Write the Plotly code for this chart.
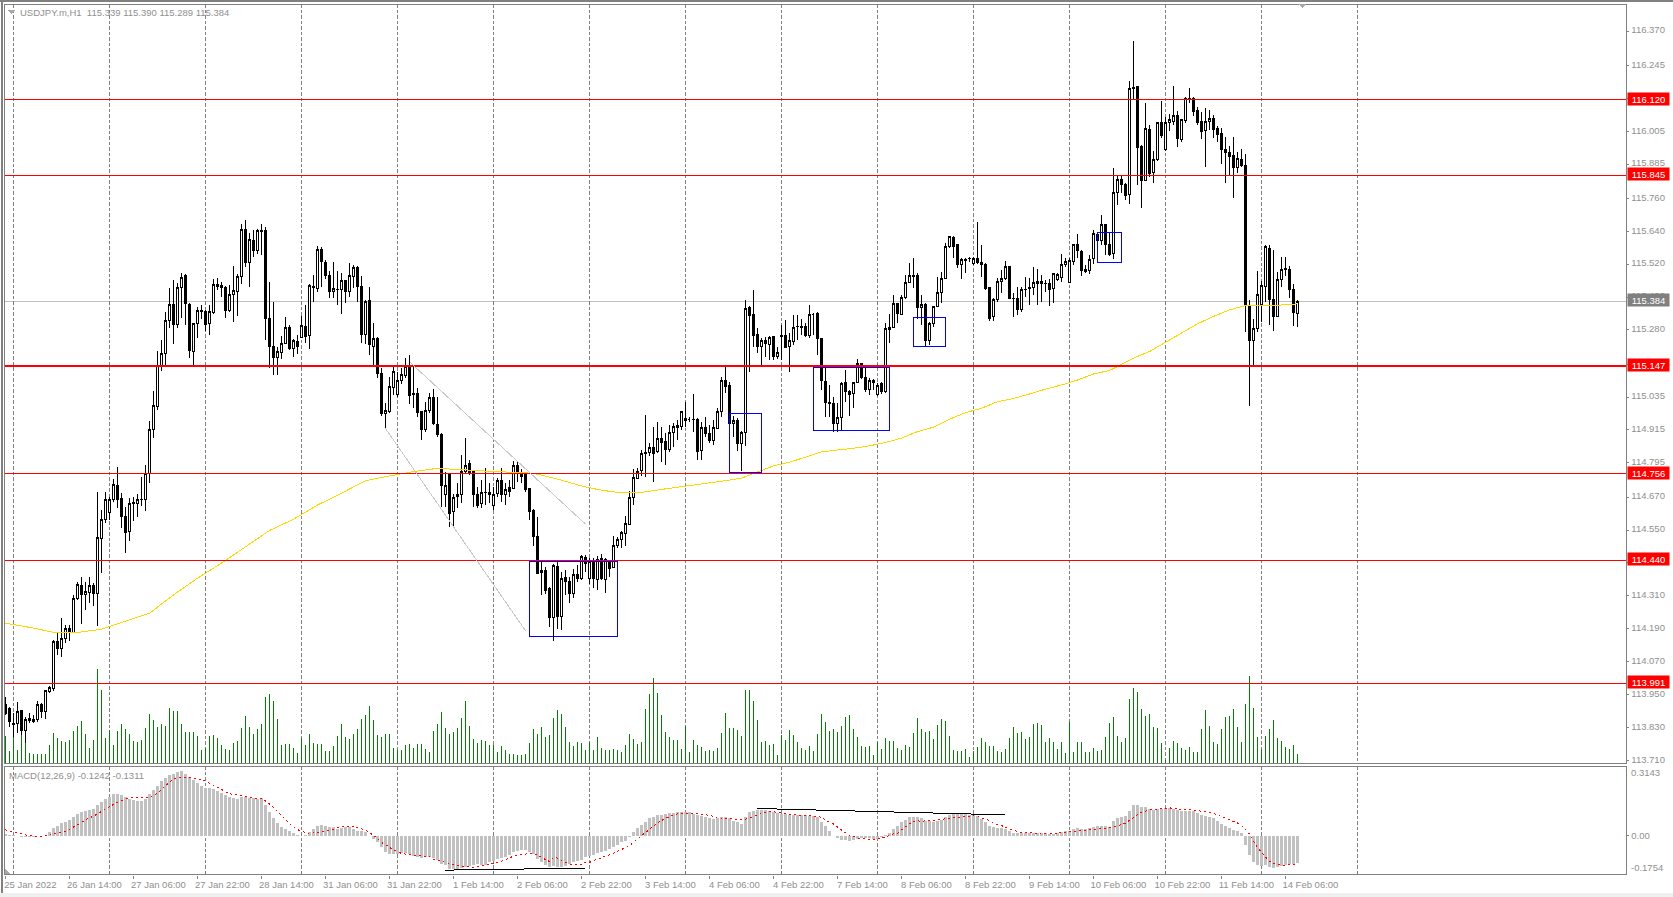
import plotly.graph_objects as go

# USDJPY.m H1 candles
opens = [
    113.912,113.900,113.843,113.845,113.890,113.818,113.863,113.859,113.859,113.914,
    113.887,113.960,113.973,114.142,114.118,114.155,114.191,114.177,114.301,114.346,
    114.313,114.322,114.346,114.319,114.520,114.589,114.613,114.660,114.714,114.666,
    114.601,114.544,114.647,114.647,114.662,114.662,114.757,114.917,115.000,115.150,
    115.195,115.316,115.371,115.300,115.436,115.477,115.373,115.201,115.304,115.350,
    115.348,115.304,115.343,115.446,115.441,115.436,115.350,115.410,115.420,115.474,
    115.647,115.525,115.608,115.569,115.641,115.641,115.322,115.221,115.179,115.197,
    115.231,115.290,115.211,115.236,115.253,115.294,115.259,115.438,115.432,115.572,
    115.527,115.480,115.420,115.428,115.426,115.459,115.420,115.474,115.508,115.440,
    115.262,115.386,115.219,115.249,115.122,114.976,114.982,115.069,115.043,115.095,
    115.113,115.150,115.049,115.049,114.982,114.915,114.986,115.034,114.935,114.899,
    114.678,114.753,114.617,114.678,114.678,114.763,114.791,114.763,114.678,114.647,
    114.688,114.688,114.641,114.684,114.729,114.678,114.706,114.702,114.786,114.761,
    114.751,114.700,114.623,114.526,114.401,114.401,114.337,114.232,114.416,114.234,
    114.377,114.362,114.319,114.386,114.374,114.450,114.374,114.431,114.370,114.447,
    114.370,114.435,114.414,114.493,114.514,114.538,114.570,114.668,114.739,114.767,
    114.830,114.832,114.852,114.836,114.884,114.874,114.844,114.905,114.932,114.929,
    114.948,114.955,114.954,114.954,114.840,114.925,114.903,114.876,114.922,114.983,
    115.097,115.079,114.939,114.951,114.866,114.906,115.361,115.337,115.264,115.219,
    115.243,115.227,115.255,115.182,115.261,115.261,115.221,115.237,115.293,115.294,
    115.294,115.261,115.338,115.340,115.247,115.092,115.016,115.010,114.939,114.961,
    115.089,115.055,115.049,115.088,115.158,115.106,115.061,115.097,115.045,115.083,
    115.055,115.280,115.290,115.377,115.338,115.398,115.454,115.479,115.477,115.362,
    115.373,115.241,115.302,115.367,115.417,115.468,115.586,115.618,115.590,115.519,
    115.535,115.539,115.523,115.541,115.527,115.519,115.435,115.328,115.392,115.456,
    115.468,115.513,115.395,115.395,115.353,115.426,115.430,115.434,115.456,115.457,
    115.450,115.450,115.432,115.465,115.472,115.520,115.453,115.529,115.592,115.566,
    115.499,115.496,115.540,115.629,115.608,115.663,115.590,115.560,115.781,115.827,
    115.809,115.775,116.159,116.168,115.949,115.825,116.010,115.854,115.900,116.037,
    115.937,116.037,116.042,116.064,115.973,116.044,116.125,116.125,116.079,116.039,
    116.006,116.040,116.050,116.014,115.995,115.937,115.928,115.915,115.872,115.903,
    115.881,115.368,115.241,115.286,115.371,115.438,115.578,115.392,115.329,115.465,
    115.499,115.501,115.428,115.339,
]
highs = [
    113.942,113.906,113.881,113.924,113.894,113.869,113.881,113.875,113.926,113.918,
    113.966,113.981,114.149,114.177,114.228,114.204,114.204,114.313,114.362,114.378,
    114.362,114.380,114.356,114.690,114.623,114.688,114.672,114.735,114.779,114.684,
    114.635,114.666,114.672,114.680,114.745,114.787,114.949,115.057,115.204,115.243,
    115.344,115.432,115.462,115.450,115.487,115.484,115.377,115.307,115.365,115.371,
    115.353,115.371,115.465,115.468,115.456,115.440,115.444,115.513,115.484,115.666,
    115.681,115.632,115.645,115.647,115.665,115.657,115.454,115.381,115.219,115.258,
    115.326,115.298,115.246,115.262,115.329,115.371,115.448,115.480,115.586,115.581,
    115.535,115.496,115.529,115.496,115.487,115.462,115.523,115.517,115.513,115.477,
    115.389,115.438,115.304,115.253,115.140,115.012,115.110,115.146,115.128,115.140,
    115.176,115.189,115.146,115.067,114.985,115.018,115.049,115.065,115.037,114.905,
    114.763,114.757,114.681,114.720,114.824,114.885,114.806,114.769,114.708,114.733,
    114.775,114.720,114.708,114.739,114.775,114.720,114.733,114.800,114.800,114.771,
    114.759,114.702,114.626,114.599,114.435,114.414,114.341,114.425,114.435,114.398,
    114.404,114.380,114.407,114.422,114.459,114.459,114.447,114.447,114.455,114.461,
    114.447,114.441,114.528,114.526,114.548,114.601,114.694,114.771,114.775,114.842,
    114.970,114.866,114.927,114.945,114.927,114.903,114.933,114.939,114.951,114.982,
    115.018,114.964,115.046,114.957,114.945,114.964,114.933,114.951,114.994,115.109,
    115.146,115.089,114.966,114.957,114.912,115.389,115.367,115.426,115.286,115.249,
    115.253,115.258,115.258,115.219,115.298,115.316,115.268,115.334,115.334,115.320,
    115.304,115.371,115.343,115.347,115.249,115.140,115.079,115.037,115.015,115.089,
    115.134,115.061,115.091,115.173,115.161,115.140,115.103,115.100,115.085,115.089,
    115.304,115.338,115.407,115.379,115.407,115.480,115.523,115.544,115.486,115.407,
    115.377,115.310,115.367,115.474,115.493,115.598,115.623,115.623,115.593,115.541,
    115.541,115.545,115.547,115.675,115.590,115.523,115.438,115.395,115.468,115.499,
    115.533,115.514,115.416,115.438,115.438,115.474,115.468,115.511,115.501,115.480,
    115.462,115.465,115.489,115.487,115.557,115.541,115.541,115.594,115.630,115.572,
    115.517,115.554,115.645,115.633,115.700,115.667,115.633,115.872,115.845,115.845,
    115.815,116.188,116.335,116.170,115.955,116.107,116.028,115.934,116.040,116.115,
    116.058,116.067,116.170,116.080,116.048,116.129,116.162,116.131,116.092,116.076,
    116.089,116.083,116.064,116.024,116.016,115.985,115.951,115.983,115.930,115.939,
    115.921,115.389,115.320,115.496,115.459,115.590,115.590,115.572,115.493,115.545,
    115.545,115.515,115.446,115.390,
]
lows = [
    113.875,113.833,113.796,113.808,113.802,113.772,113.845,113.847,113.851,113.863,
    113.859,113.954,113.964,114.094,114.088,114.137,114.145,114.173,114.295,114.207,
    114.258,114.283,114.274,114.200,114.395,114.575,114.587,114.654,114.629,114.556,
    114.467,114.510,114.584,114.599,114.638,114.621,114.720,114.885,114.988,115.131,
    115.150,115.286,115.229,115.288,115.322,115.298,115.177,115.150,115.249,115.319,
    115.277,115.262,115.337,115.426,115.401,115.325,115.346,115.310,115.332,115.448,
    115.511,115.438,115.547,115.557,115.553,115.243,115.142,115.116,115.116,115.174,
    115.228,115.207,115.180,115.191,115.249,115.231,115.211,115.383,115.420,115.438,
    115.465,115.395,115.398,115.371,115.338,115.380,115.401,115.432,115.383,115.234,
    115.229,115.189,115.150,115.104,114.967,114.921,114.978,115.043,115.037,115.083,
    115.104,115.009,114.994,114.964,114.879,114.909,114.976,114.933,114.891,114.635,
    114.635,114.562,114.560,114.629,114.647,114.757,114.751,114.635,114.629,114.629,
    114.641,114.648,114.623,114.672,114.654,114.641,114.672,114.699,114.726,114.720,
    114.690,114.587,114.492,114.390,114.313,114.316,114.198,114.146,114.188,114.185,
    114.313,114.283,114.301,114.362,114.368,114.398,114.353,114.337,114.331,114.368,
    114.319,114.380,114.410,114.483,114.483,114.492,114.568,114.641,114.735,114.747,
    114.745,114.820,114.726,114.830,114.799,114.787,114.836,114.854,114.878,114.915,
    114.927,114.945,114.909,114.805,114.805,114.891,114.866,114.860,114.921,114.964,
    115.050,114.937,114.891,114.840,114.767,114.857,115.128,115.219,115.195,115.152,
    115.180,115.170,115.170,115.173,115.170,115.213,115.128,115.225,115.243,115.261,
    115.255,115.249,115.261,115.189,115.061,114.961,114.964,114.909,114.906,114.915,
    115.016,114.967,114.996,115.085,115.100,115.055,115.043,115.061,115.040,115.046,
    115.049,115.233,115.286,115.304,115.334,115.393,115.450,115.434,115.320,115.298,
    115.219,115.225,115.292,115.365,115.377,115.465,115.578,115.541,115.505,115.466,
    115.486,115.529,115.517,115.520,115.474,115.426,115.314,115.313,115.383,115.413,
    115.462,115.391,115.328,115.334,115.347,115.401,115.371,115.407,115.371,115.383,
    115.420,115.367,115.377,115.460,115.456,115.511,115.450,115.517,115.544,115.475,
    115.487,115.484,115.521,115.602,115.590,115.554,115.551,115.538,115.736,115.779,
    115.754,115.738,116.119,115.809,115.724,115.825,115.839,115.817,115.898,115.979,
    115.934,116.007,116.028,115.949,115.967,116.034,116.107,116.061,116.028,115.975,
    115.876,116.010,115.979,115.967,115.885,115.815,115.843,115.763,115.854,115.876,
    115.274,115.004,115.152,115.274,115.310,115.383,115.298,115.276,115.329,115.438,
    115.475,115.395,115.296,115.289,
]
closes = [
    113.881,113.851,113.842,113.887,113.818,113.859,113.855,113.851,113.914,113.887,
    113.963,113.976,114.142,114.118,114.155,114.191,114.177,114.301,114.350,114.313,
    114.325,114.346,114.319,114.523,114.589,114.662,114.662,114.717,114.663,114.599,
    114.540,114.647,114.652,114.662,114.660,114.757,114.917,115.003,115.152,115.195,
    115.315,115.373,115.300,115.436,115.472,115.377,115.204,115.302,115.350,115.349,
    115.298,115.346,115.446,115.438,115.434,115.350,115.411,115.423,115.474,115.647,
    115.525,115.611,115.569,115.641,115.640,115.320,115.219,115.179,115.203,115.231,
    115.290,115.211,115.241,115.219,115.297,115.256,115.441,115.436,115.572,115.529,
    115.477,115.420,115.432,115.427,115.459,115.420,115.477,115.508,115.438,115.262,
    115.383,115.225,115.249,115.122,114.976,114.986,115.073,115.130,115.094,115.116,
    115.148,115.040,115.043,114.978,114.915,114.986,115.034,114.937,114.899,114.712,
    114.712,114.611,114.669,114.672,114.763,114.787,114.757,114.678,114.641,114.688,
    114.686,114.680,114.681,114.729,114.678,114.696,114.690,114.784,114.761,114.745,
    114.699,114.617,114.526,114.392,114.395,114.331,114.230,114.420,114.234,114.374,
    114.362,114.317,114.386,114.374,114.453,114.428,114.435,114.374,114.441,114.374,
    114.441,114.410,114.495,114.517,114.540,114.572,114.669,114.742,114.763,114.830,
    114.833,114.852,114.830,114.884,114.869,114.842,114.906,114.929,114.925,114.981,
    114.957,114.955,114.953,114.836,114.925,114.903,114.876,114.925,114.983,115.097,
    115.073,114.939,114.948,114.866,114.906,115.359,115.334,115.261,115.219,115.243,
    115.229,115.253,115.182,115.198,115.255,115.217,115.240,115.289,115.292,115.289,
    115.261,115.337,115.338,115.249,115.095,115.015,115.010,114.939,114.961,115.085,
    115.055,115.046,115.088,115.156,115.106,115.061,115.097,115.089,115.077,115.055,
    115.286,115.290,115.377,115.340,115.399,115.454,115.479,115.474,115.362,115.373,
    115.241,115.304,115.365,115.417,115.468,115.586,115.620,115.584,115.519,115.538,
    115.538,115.542,115.541,115.525,115.519,115.432,115.322,115.392,115.458,115.468,
    115.513,115.393,115.393,115.353,115.426,115.429,115.434,115.454,115.450,115.450,
    115.449,115.429,115.484,115.481,115.520,115.529,115.535,115.592,115.569,115.496,
    115.493,115.538,115.633,115.606,115.663,115.590,115.554,115.783,115.827,115.809,
    115.770,116.162,116.165,115.945,115.825,116.013,115.852,115.903,116.037,115.991,
    116.037,116.046,116.064,115.977,116.046,116.125,116.121,116.076,116.036,116.003,
    116.040,116.050,116.012,115.994,115.937,115.927,115.912,115.872,115.904,115.880,
    115.368,115.241,115.286,115.411,115.441,115.584,115.392,115.329,115.465,115.499,
    115.503,115.428,115.343,115.384,
]
volumes = [
    267,117,370,133,327,277,100,87,87,87,87,177,303,250,217,210,227,317,367,417,
    293,150,227,937,727,250,327,177,317,387,343,287,217,213,227,353,493,427,360,393,
    367,550,517,517,387,307,307,307,267,127,150,273,277,253,177,143,127,200,217,353,
    467,360,287,343,387,660,687,617,443,177,187,187,153,100,250,177,287,203,193,187,
    117,117,167,267,393,260,243,287,343,443,477,567,427,283,260,287,287,150,127,127,
    177,187,153,187,187,143,110,317,393,507,353,293,307,353,453,617,370,237,200,227,
    220,177,177,110,167,127,87,87,77,77,93,200,337,293,360,260,277,453,533,493,
    357,213,173,213,200,133,210,133,260,150,133,133,143,127,113,183,293,243,193,210,
    543,693,850,703,483,313,260,233,227,143,367,113,233,183,160,123,130,123,150,303,
    503,350,350,333,273,733,733,623,433,213,223,180,193,83,283,230,333,283,213,153,
    133,173,123,293,493,413,323,343,313,373,463,483,343,263,173,163,173,83,213,143,
    253,223,217,153,133,183,163,303,453,343,313,323,243,383,443,423,273,133,123,123,
    143,63,123,160,253,213,173,173,123,113,143,253,363,303,313,243,263,393,403,383,
    213,253,207,137,207,100,407,107,207,207,107,107,147,120,127,257,397,457,267,207,
    247,637,747,707,537,467,487,357,347,197,27,147,217,197,147,127,157,107,107,337,
    527,367,207,187,337,457,467,537,357,207,587,867,547,257,140,267,337,427,247,217,
    157,137,177,87,
]
macd_hist = [
    .0076,.0030,.0030,-.0015,-.0045,-.0076,-.0076,-.0076,-.0030,0,0,.0151,.0348,.0454,.0559,.0635,.0711,.0862,.0983,.1089,
    .1134,.1179,.1194,.1361,.1512,.1648,.1739,.1860,.1860,.1814,.1739,.1663,.1618,.1557,.1557,.1663,.1860,.2071,.2238,.2465,
    .2616,.2722,.2797,.2873,.2903,.2797,.2646,.2495,.2374,.2238,.2147,.2147,.2117,.2011,.1935,.1814,.1739,.1709,.1663,.1739,
    .1739,.1709,.1693,.1663,.1709,.1361,.1058,.0786,.0559,.0408,.0302,.0197,.0106,.0015,-.0030,.0045,.0151,.0302,.0454,.0484,
    .0454,.0408,.0378,.0302,.0333,.0378,.0378,.0302,.0227,.0197,.0151,0,-.0151,-.0302,-.0529,-.0756,-.0832,-.0832,-.0832,-.0801,
    -.0786,-.0832,-.0907,-.0983,-.1013,-.0983,-.0983,-.1013,-.1104,-.1285,-.1315,-.1512,-.1512,-.1512,-.1482,-.1406,-.1376,-.1315,-.1285,-.1315,
    -.1315,-.1210,-.1134,-.1058,-.1013,-.0953,-.0862,-.0756,-.0680,-.0650,-.0635,-.0756,-.0832,-.1058,-.1210,-.1315,-.1436,-.1361,-.1436,-.1436,
    -.1361,-.1285,-.1210,-.1134,-.1089,-.0983,-.0907,-.0862,-.0786,-.0756,-.0711,-.0605,-.0499,-.0408,-.0302,-.0227,-.0076,.0151,.0348,.0484,
    .0620,.0786,.0862,.0922,.0953,.0968,.1013,.1028,.1058,.1089,.1089,.1058,.0983,.0953,.0907,.0832,.0786,.0756,.0786,.0832,
    .0832,.0786,.0680,.0605,.0529,.0832,.1058,.1134,.1179,.1179,.1179,.1134,.1058,.1013,.0983,.0968,.0953,.0953,.0953,.0937,
    .0937,.0907,.0877,.0832,.0635,.0423,.0197,-.0030,-.0106,-.0181,-.0212,-.0227,-.0197,-.0151,-.0121,-.0106,-.0121,-.0136,-.0151,-.0076,
    .0030,.0106,.0302,.0454,.0605,.0726,.0832,.0862,.0862,.0801,.0680,.0650,.0635,.0680,.0726,.0832,.0937,.0983,.0983,.0983,
    .0983,.0937,.0937,.0907,.0756,.0605,.0423,.0378,.0363,.0333,.0302,.0197,.0121,.0106,.0106,.0106,.0121,.0121,.0106,.0106,
    .0106,.0091,.0091,.0106,.0151,.0227,.0227,.0302,.0348,.0302,.0302,.0333,.0378,.0423,.0454,.0423,.0378,.0680,.0786,.0832,
    .0877,.1134,.1361,.1361,.1285,.1315,.1210,.1164,.1210,.1210,.1240,.1240,.1210,.1179,.1104,.1104,.1104,.1104,.1028,.0953,
    .0877,.0832,.0786,.0680,.0529,.0454,.0348,.0257,.0197,.0106,-.0408,-.0862,-.1179,-.1315,-.1391,-.1315,-.1406,-.1482,-.1436,-.1361,
    -.1315,-.1285,-.1285,-.1242,
]
macd_signal = [
    .0257,.0227,.0151,.0106,.0060,.0030,0,-.0015,-.0030,-.0030,-.0015,.0015,.0060,.0106,.0151,.0197,.0287,.0378,.0484,.0605,
    .0711,.0801,.0877,.0983,.1104,.1225,.1331,.1436,.1512,.1588,.1648,.1693,.1709,.1709,.1693,.1693,.1709,.1799,.1920,.2071,
    .2253,.2419,.2570,.2616,.2631,.2646,.2631,.2586,.2555,.2525,.2465,.2374,.2283,.2177,.2071,.1981,.1890,.1860,.1845,.1814,
    .1784,.1739,.1693,.1678,.1663,.1572,.1436,.1285,.1104,.0907,.0726,.0529,.0378,.0272,.0197,.0136,.0106,.0106,.0136,.0181,
    .0197,.0227,.0272,.0348,.0378,.0423,.0423,.0408,.0348,.0302,.0257,.0151,0,-.0106,-.0302,-.0408,-.0529,-.0650,-.0726,-.0801,
    -.0832,-.0862,-.0877,-.0892,-.0907,-.0922,-.0953,-.1058,-.1089,-.1164,-.1210,-.1285,-.1331,-.1361,-.1391,-.1391,-.1406,-.1436,-.1406,-.1361,
    -.1315,-.1285,-.1255,-.1225,-.1164,-.1104,-.1013,-.0922,-.0892,-.0832,-.0801,-.0801,-.0832,-.0877,-.0983,-.1074,-.1164,-.0983,-.1013,-.1134,
    -.1210,-.1285,-.1315,-.1315,-.1285,-.1210,-.1210,-.1134,-.1058,-.0983,-.0907,-.0862,-.0801,-.0711,-.0650,-.0559,-.0454,-.0302,-.0151,-.0030,
    .0151,.0302,.0454,.0575,.0680,.0786,.0862,.0922,.0983,.0998,.1013,.1013,.1013,.0998,.0983,.0953,.0907,.0862,.0832,.0786,
    .0756,.0756,.0741,.0741,.0741,.0741,.0801,.0877,.0953,.1013,.1058,.1089,.1089,.1043,.1013,.0983,.0953,.0937,.0937,.0922,
    .0922,.0922,.0907,.0862,.0832,.0711,.0605,.0529,.0378,.0257,.0136,.0015,-.0045,-.0106,-.0151,-.0151,-.0166,-.0166,-.0151,-.0106,
    -.0045,0,.0076,.0106,.0257,.0408,.0529,.0635,.0665,.0650,.0650,.0680,.0696,.0711,.0726,.0756,.0786,.0801,.0816,.0847,
    .0862,.0877,.0892,.0862,.0816,.0741,.0680,.0590,.0499,.0454,.0378,.0302,.0227,.0197,.0151,.0151,.0121,.0106,.0091,.0076,
    .0076,.0076,.0076,.0106,.0136,.0151,.0181,.0212,.0227,.0242,.0242,.0257,.0272,.0302,.0333,.0333,.0348,.0378,.0454,.0499,
    .0559,.0680,.0832,.0953,.1058,.1104,.1164,.1179,.1194,.1225,.1255,.1255,.1225,.1194,.1179,.1164,.1164,.1164,.1134,.1104,
    .1089,.1058,.1013,.0953,.0862,.0786,.0711,.0650,.0575,.0454,.0302,.0076,-.0227,-.0529,-.0756,-.0983,-.1164,-.1255,-.1315,-.1331,
    -.1331,-.1331,-.1331,-.1311,
]
# moving average, read every few bars
ma_bars = [
    0,6,12,18,24,30,36,42,48,54,60,66,72,78,84,90,96,102,108,114,120,126,132,138,
    144,148,152,156,160,164,168,172,176,180,184,188,192,196,200,204,208,212,216,220,
    224,228,232,236,240,244,248,252,256,260,264,268,272,276,278,282,286,290,294,298,
    302,306,310,314,318,323,
]
ma_values = [
    114.210,114.195,114.177,114.176,114.188,114.216,114.246,114.313,114.374,114.429,
    114.490,114.548,114.589,114.641,114.684,114.730,114.747,114.763,114.775,114.769,
    114.765,114.761,114.757,114.736,114.711,114.698,114.689,114.686,114.689,114.698,
    114.706,114.714,114.720,114.730,114.739,114.763,114.784,114.797,114.815,114.835,
    114.842,114.848,114.857,114.869,114.885,114.909,114.925,114.954,114.978,114.994,
    115.018,115.030,115.046,115.064,115.079,115.097,115.119,115.132,115.146,115.177,
    115.201,115.234,115.270,115.302,115.329,115.353,115.369,115.368,115.370,115.375,
]
price_ticks = [
    116.370,116.245,116.125,116.005,115.885,115.760,115.640,115.520,115.400,115.280,115.155,
    115.035,114.915,114.795,114.670,114.550,114.430,114.310,114.190,114.070,113.950,113.830,113.710,
]
time_labels = [
    "25 Jan 2022","26 Jan 14:00","27 Jan 06:00","27 Jan 22:00","28 Jan 14:00","31 Jan 06:00",
    "31 Jan 22:00","1 Feb 14:00","2 Feb 06:00","2 Feb 22:00","3 Feb 14:00","4 Feb 06:00",
    "4 Feb 22:00","7 Feb 14:00","8 Feb 06:00","8 Feb 22:00","9 Feb 14:00","10 Feb 06:00",
    "10 Feb 22:00","11 Feb 14:00","14 Feb 06:00",
]
levels = [116.120, 115.845, 115.147, 114.756, 114.440, 113.991]
last_price = 115.384

W, H = 1673, 897
FONT = "Liberation Sans"
GREY = "#808080"
TEXT = "#8f8f8f"

def px_x(x):
    return x / W

def px_y(y):
    return 1 - y / H

bars = list(range(len(closes)))
label_bars = [i * 16 for i in range(len(time_labels))]
grid_bars = [2 + 24 * i for i in range(15)]

fig = go.Figure()
# alpha just under 1 stops plotly widening the thin bars
fig.add_trace(go.Bar(x=bars, y=volumes, width=0.25, yaxis="y", xaxis="x",
                     marker=dict(color="rgba(0,128,0,0.99)", line_width=0)))
fig.add_trace(go.Candlestick(
    x=bars, open=opens, high=highs, low=lows, close=closes, yaxis="y2", xaxis="x",
    increasing=dict(line=dict(color="black", width=1), fillcolor="white"),
    decreasing=dict(line=dict(color="black", width=1), fillcolor="black"),
))
fig.add_trace(go.Scatter(x=ma_bars, y=ma_values, mode="lines", yaxis="y2", xaxis="x",
                         line=dict(color="#ffd700", width=1)))
fig.add_trace(go.Bar(x=bars, y=macd_hist, width=0.75, yaxis="y3", xaxis="x2",
                     marker=dict(color="rgba(192,192,192,0.99)", line_width=0)))
fig.add_trace(go.Scatter(x=bars, y=macd_signal, mode="lines", yaxis="y3", xaxis="x2",
                         line=dict(color="#ff0000", width=1, dash="2px,3px")))

shapes = []
# price levels
for lv in levels:
    lw = 2 if lv == 115.147 else 1
    shapes.append(dict(type="line", xref="x", yref="y2", x0=-0.275, x1=405.25, y0=lv, y1=lv,
                       line=dict(color="#ff0000", width=lw)))
shapes.append(dict(type="line", xref="x", yref="y2", x0=-0.275, x1=405.25, y0=last_price, y1=last_price,
                   line=dict(color="#c0c0c0", width=1), layer="below"))
# boxes drawn on the chart
for b0, b1, p0, p1 in [(131, 153, 114.436, 114.162), (181, 189, 114.976, 114.759),
                       (202, 221, 115.144, 114.914), (227, 235, 115.326, 115.220),
                       (273, 279, 115.636, 115.526)]:
    shapes.append(dict(type="rect", xref="x", yref="y2", x0=b0, x1=b1, y0=p0, y1=p1,
                       line=dict(color="#0000ff", width=1)))
# grey channel lines
for b0, p0, b1, p1 in [(101, 115.164, 145, 114.572), (95, 114.921, 130, 114.183)]:
    shapes.append(dict(type="line", xref="x", yref="y2", x0=b0, x1=b1, y0=p0, y1=p1,
                       line=dict(color="#c8c8c8", width=1)))
# black lines on the macd pane
for b0, v0, b1, v1 in [(188, .1225, 250, .0937), (110, -.1557, 145, -.1467)]:
    shapes.append(dict(type="line", xref="x2", yref="y3", x0=b0, x1=b1, y0=v0, y1=v1,
                       line=dict(color="black", width=1)))
# pane frames and window edges
for y0, y1 in [(4, 763), (766, 874.5)]:
    shapes.append(dict(type="rect", xref="paper", yref="paper", x0=px_x(4.3), x1=px_x(1626.4),
                       y0=px_y(y0), y1=px_y(y1), line=dict(color=GREY, width=1)))
shapes.append(dict(type="line", xref="paper", yref="paper", x0=px_x(1.5), x1=px_x(1.5), y0=0, y1=1,
                   line=dict(color=GREY, width=2)))
shapes.append(dict(type="line", xref="paper", yref="paper", x0=0, x1=1, y0=px_y(1), y1=px_y(1),
                   line=dict(color=GREY, width=2)))
shapes.append(dict(type="rect", xref="paper", yref="paper", x0=0, x1=1, y0=0, y1=px_y(893),
                   fillcolor="#f0f0f0", line_width=0))
# little markers: symbol drop-down, chart shift, macd corner
for x, y, pts in [(8, 10, [(0, 0), (7, 0), (3.5, 4)]), (1298, 4, [(0, 0), (9, 0), (4.5, 4)]),
                  (4.5, 868, [(0, 0), (6, 6), (0, 6)])]:
    path = "M" + " L".join(f"{px_x(x + a)},{px_y(y + b)}" for a, b in pts) + " Z"
    shapes.append(dict(type="path", xref="paper", yref="paper", path=path, fillcolor="#a8a8a8", line_width=0))

annotations = []
for lv, color in [(lv, "#ff0000") for lv in levels] + [(last_price, GREY)]:
    annotations.append(dict(xref="paper", yref="y2", x=px_x(1648), y=lv, yshift=1, text=f"{lv:.3f}", showarrow=False,
                            xanchor="center", yanchor="middle", width=41, height=12, borderpad=0,
                            bgcolor=color, font=dict(family=FONT, size=9.5, color="white")))
annotations.append(dict(xref="paper", yref="paper", x=px_x(18), y=px_y(12.5), xanchor="left", yanchor="middle",
                        text="USDJPY.m,H1  115.339 115.390 115.289 115.384", showarrow=False,
                        font=dict(family=FONT, size=9.5, color=TEXT)))
annotations.append(dict(xref="paper", yref="paper", x=px_x(7), y=px_y(775), xanchor="left", yanchor="middle",
                        text="MACD(12,26,9) -0.1242 -0.1311", showarrow=False,
                        font=dict(family=FONT, size=9.5, color=TEXT)))
for label, y in [("0.3143", 772.5), ("-0.1754", 867.5)]:
    annotations.append(dict(xref="paper", yref="paper", x=px_x(1628.5), y=px_y(y), xanchor="left", yanchor="middle",
                            text=label, showarrow=False, font=dict(family=FONT, size=9.5, color=TEXT)))

main_domain = [px_y(763), px_y(4)]
macd_domain = [px_y(874.5), px_y(766)]
x_range = [-0.275, 405.25]

fig.update_layout(
    width=W, height=H, margin=dict(l=0, r=0, t=0, b=0, pad=0, autoexpand=False),
    paper_bgcolor="white", plot_bgcolor="white", showlegend=False,
    shapes=shapes, annotations=annotations,
    font=dict(family=FONT, size=9.5, color=TEXT),
    xaxis=dict(domain=[px_x(4.3), px_x(1626.4)], range=x_range, anchor="y", rangeslider_visible=False,
               showticklabels=False, ticks="", showgrid=False, zeroline=False, automargin=False,
               minor=dict(tickmode="array", tickvals=grid_bars, showgrid=True, gridcolor=GREY,
                          griddash="3.5px,2px", gridwidth=1, ticks="")),
    xaxis2=dict(domain=[px_x(4.3), px_x(1626.4)], range=x_range, anchor="y3", showgrid=False, zeroline=False,
                tickmode="array", tickvals=label_bars, ticktext=time_labels, ticks="outside", ticklen=3,
                tickcolor=GREY, ticklabelshift=25, ticklabelstandoff=-2, tickangle=0, automargin=False,
                minor=dict(tickmode="array", tickvals=grid_bars, showgrid=True, gridcolor=GREY,
                           griddash="3.5px,2px", gridwidth=1, ticks="")),
    yaxis=dict(domain=main_domain, range=[0, 7590], visible=False, anchor="x", automargin=False),
    yaxis2=dict(domain=main_domain, range=[113.700, 116.469], overlaying="y", side="right", anchor="x",
                tickmode="array", tickvals=price_ticks, ticktext=[f"{t:.3f}" for t in price_ticks],
                ticks="outside", ticklen=2, ticklabelshift=-1, tickcolor=GREY, showgrid=False,
                zeroline=False, automargin=False),
    yaxis3=dict(domain=macd_domain, range=[-0.1754, 0.3143], side="right", anchor="x2",
                tickmode="array", tickvals=[0], ticktext=["0.00"], ticks="outside", ticklen=2,
                tickcolor=GREY, showgrid=False, zeroline=False, automargin=False),
)

# the terminal draws everything without smoothing
crisp = ("var s=document.createElement('style');"
         "s.textContent='.barlayer path,.boxlayer path,.shapelayer path,.scatterlayer path,.gridlayer path"
         "{shape-rendering:crispEdges}';document.head.appendChild(s);"
         "document.body.style.margin='0';")
fig.write_html("out.html", config={"displayModeBar": False}, post_script=crisp)
